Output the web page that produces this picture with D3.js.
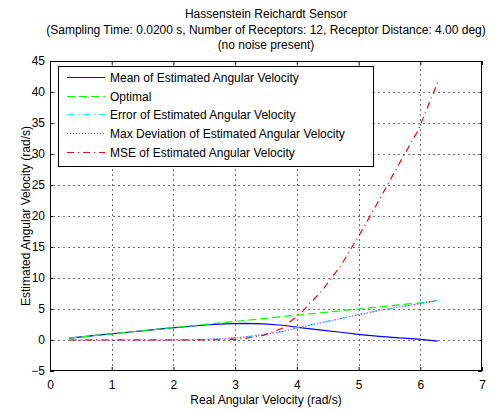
<!DOCTYPE html>
<html>
<head>
<meta charset="utf-8">
<script src="https://cdn.jsdelivr.net/npm/d3@7"></script>
<style>
body { margin: 0; background: #fff; }
text { font-family: Arial, "Liberation Sans", sans-serif; font-size: 12px; fill: #000; }
</style>
</head>
<body>
<script>
// real angular velocity (rad/s)
var realVel = [0.314, 0.628, 0.942, 1.257, 1.571, 1.885, 2.199, 2.513, 2.827, 3.142,
               3.456, 3.770, 4.084, 4.398, 4.712, 5.027, 5.341, 5.655, 5.969, 6.283];
var optimal = [0.314, 0.628, 0.942, 1.257, 1.571, 1.885, 2.199, 2.513, 2.827, 3.142,
               3.456, 3.770, 4.084, 4.398, 4.712, 5.027, 5.341, 5.655, 5.969, 6.283];
var meanEst = [0.31, 0.63, 0.94, 1.25, 1.56, 1.86, 2.14, 2.42, 2.60, 2.67,
               2.60, 2.38, 1.95, 1.60, 1.25, 0.88, 0.58, 0.33, 0.15, -0.17];
var errEst  = [0.00, 0.00, 0.00, 0.01, 0.01, 0.03, 0.06, 0.09, 0.23, 0.47,
               0.86, 1.39, 2.13, 2.80, 3.46, 4.15, 4.76, 5.33, 5.82, 6.45];
var maxDev  = [0.00, 0.00, 0.00, 0.01, 0.01, 0.03, 0.06, 0.09, 0.23, 0.47,
               0.86, 1.39, 2.13, 2.80, 3.46, 4.15, 4.76, 5.33, 5.82, 6.45];
var mseEst  = [0.00, 0.00, 0.00, 0.00, 0.00, 0.00, 0.00, 0.01, 0.05, 0.22,
               0.74, 1.93, 4.54, 7.84, 11.97, 17.2, 22.7, 28.4, 33.9, 41.6];

var xTicks = [0, 1, 2, 3, 4, 5, 6, 7];
var yTicks = [-5, 0, 5, 10, 15, 20, 25, 30, 35, 40, 45];

var titleLines = ["Hassenstein Reichardt Sensor",
  "(Sampling Time: 0.0200 s, Number of Receptors: 12, Receptor Distance: 4.00 deg)",
  "(no noise present)"];

var series = [
  {name: "Mean of Estimated Angular Velocity", values: meanEst, color: "#0000ff", dash: null},
  {name: "Optimal", values: optimal, color: "#00ff00", dash: "8,4"},
  {name: "Error of Estimated Angular Velocity", values: errEst, color: "#00ffff", dash: "7,4,1,4"},
  {name: "Max Deviation of Estimated Angular Velocity", values: maxDev, color: "#ff00ff", dash: "1,2"},
  {name: "MSE of Estimated Angular Velocity", values: mseEst, color: "#ff0000", dash: "7,4,1,4"}
];

var W = 501, H = 412;
var pLeft = 50, pRight = 482, pTop = 61, pBottom = 371;

var svg = d3.select("body").append("svg")
  .attr("width", W).attr("height", H);

var x = d3.scaleLinear().domain([0, 7]).range([pLeft, pRight]);
var y = d3.scaleLinear().domain([-5, 45]).range([pBottom, pTop]);
var fmt = d3.format("d");

// axes (matlab style: ticks inside, on all four sides)
svg.append("g").attr("transform", "translate(0," + pBottom + ")")
  .call(d3.axisBottom(x).tickValues(xTicks).tickFormat(fmt).tickSizeInner(-4).tickSizeOuter(0).tickPadding(9));
svg.append("g").attr("transform", "translate(0," + pTop + ")")
  .call(d3.axisTop(x).tickValues(xTicks).tickSizeInner(-4).tickSizeOuter(0).tickFormat(""));
svg.append("g").attr("transform", "translate(" + pLeft + ",0)")
  .call(d3.axisLeft(y).tickValues(yTicks).tickFormat(fmt).tickSizeInner(-4).tickSizeOuter(0).tickPadding(5));
svg.append("g").attr("transform", "translate(" + pRight + ",0)")
  .call(d3.axisRight(y).tickValues(yTicks).tickSizeInner(-4).tickSizeOuter(0).tickFormat(""));

svg.selectAll(".domain").remove();
svg.selectAll(".tick line").attr("stroke", "#000");
svg.selectAll(".tick text").style("font-size", "12px").attr("fill", "#000")
  .style("font-family", "Arial, 'Liberation Sans', sans-serif");

// grid as little dots (matlab ':' grid)
var grid = svg.append("g").attr("fill", "#6e6e6e").attr("shape-rendering", "crispEdges");
xTicks.slice(1, -1).forEach(function(d) {
  var gx = Math.round(x(d));
  grid.selectAll(null).data(d3.range(pTop + 3, pBottom - 1, 5)).enter().append("rect")
    .attr("x", gx).attr("y", function(v) { return v; })
    .attr("width", 1).attr("height", 2);
});
yTicks.slice(1, -1).forEach(function(d) {
  var gy = Math.round(y(d));
  grid.selectAll(null).data(d3.range(pLeft + 3, pRight - 1, 5)).enter().append("rect")
    .attr("x", function(v) { return v; }).attr("y", gy)
    .attr("width", 2).attr("height", 1);
});

// series lines
var line = d3.line()
  .x(function(d, i) { return x(realVel[i]); })
  .y(function(d) { return y(d); });

series.forEach(function(s) {
  svg.append("path")
    .attr("d", line(s.values))
    .attr("fill", "none")
    .attr("stroke", s.color)
    .attr("stroke-width", 1.2)
    .attr("stroke-dasharray", s.dash);
});

// frame
svg.append("rect")
  .attr("x", pLeft + 0.5).attr("y", pTop + 0.5)
  .attr("width", pRight - pLeft - 1).attr("height", pBottom - pTop - 1)
  .attr("fill", "none").attr("stroke", "#000").attr("shape-rendering", "crispEdges");

// legend
var lg = svg.append("g");
lg.append("rect")
  .attr("x", 58.5).attr("y", 66.5).attr("width", 315).attr("height", 100)
  .attr("fill", "#fff").attr("stroke", "#000").attr("shape-rendering", "crispEdges");
series.forEach(function(s, i) {
  var yy = Math.round(77 + i * 18.7) + 0.5;
  lg.append("line")
    .attr("x1", 67).attr("x2", 105).attr("y1", yy).attr("y2", yy)
    .attr("stroke", s.color).attr("stroke-width", 1.2).attr("stroke-dasharray", s.dash);
  lg.append("text")
    .attr("x", 110).attr("y", yy + 4.5)
    .text(s.name);
});

// title
svg.append("g").selectAll("text").data(titleLines).enter().append("text")
  .attr("x", (pLeft + pRight) / 2)
  .attr("y", function(d, i) { return 18 + i * 15.5; })
  .attr("text-anchor", "middle")
  .text(function(d) { return d; });

// axis labels
svg.append("text")
  .attr("x", (pLeft + pRight) / 2).attr("y", 404)
  .attr("text-anchor", "middle")
  .text("Real Angular Velocity (rad/s)");
svg.append("text")
  .attr("transform", "translate(30," + ((pTop + pBottom) / 2) + ") rotate(-90)")
  .attr("text-anchor", "middle")
  .text("Estimated Angular Velocity (rad/s)");
</script>
</body>
</html>
